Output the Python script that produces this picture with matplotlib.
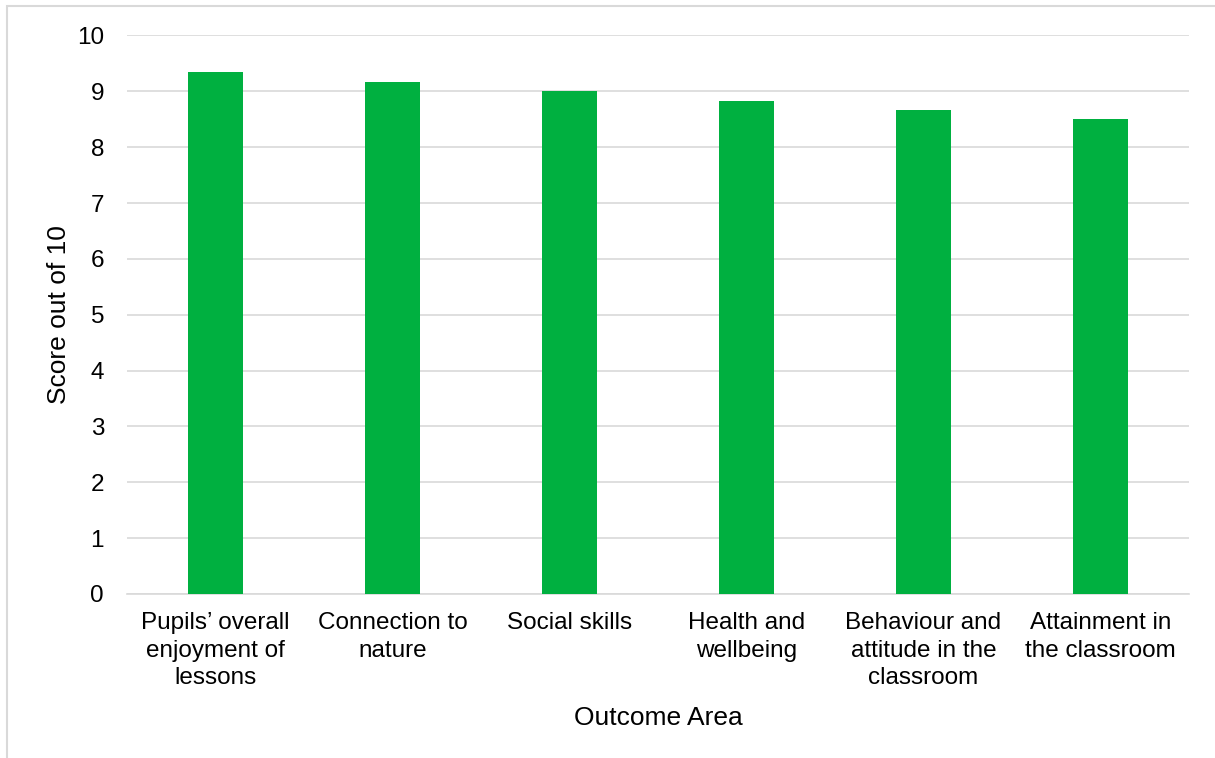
import matplotlib
matplotlib.use("Agg")
import matplotlib.pyplot as plt
from matplotlib.patches import Rectangle

categories = ["Pupils\u2019 overall\nenjoyment of\nlessons", "Connection to\nnature", "Social skills",
              "Health and\nwellbeing", "Behaviour and\nattitude in the\nclassroom", "Attainment in\nthe classroom"]
scores = [9.34, 9.17, 9.0, 8.83, 8.66, 8.5]
yticks = list(range(0, 11))

plt.rcParams['font.family'] = ['Liberation Sans', 'DejaVu Sans']

fig = plt.figure(figsize=(12.15, 7.58), dpi=100)
ax = fig.add_axes([127/1215, 1-594/758, 1062/1215, (594-35.5)/758])

x = list(range(len(categories)))
ax.bar(x, scores, width=0.31, color="#00B040", zorder=3)
ax.set_xlim(-0.5, len(categories)-0.5)
ax.set_ylim(0, 10)
ax.set_yticks(yticks)
ax.set_xticks(x)
ax.set_xticklabels(categories, fontsize=17.5, linespacing=1.33)
ax.tick_params(axis='y', labelsize=17.5, length=0, pad=16.5)
ax.tick_params(axis='x', length=0, pad=13)
ax.grid(axis='y', color="#D9D9D9", linewidth=1.2, zorder=0)
for s in ['top', 'right', 'left']:
    ax.spines[s].set_visible(False)
ax.spines['bottom'].set_color("#D9D9D9")
ax.spines['bottom'].set_linewidth(1.2)
ax.set_ylabel("Score out of 10", fontsize=19, labelpad=4)
ax.set_xlabel("Outcome Area", fontsize=19, labelpad=12)

fig.patches.append(Rectangle((7/1215, -0.05), 1.1, 1-6/758+0.05, transform=fig.transFigure,
                             fill=False, edgecolor="#D9D9D9", linewidth=1.5))

fig.savefig("out.png", dpi=100)
